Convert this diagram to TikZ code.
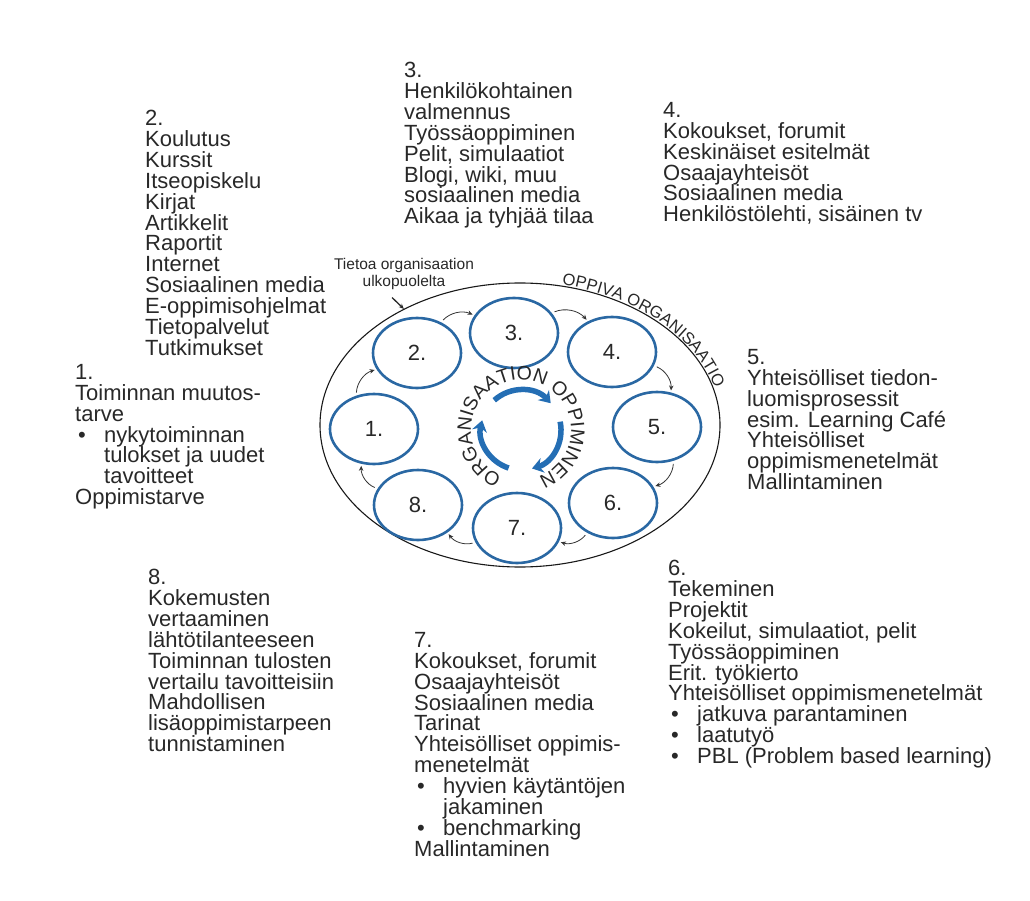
\documentclass[tikz,border=0pt]{standalone}
\usepackage{fontspec}
\setmainfont{Liberation Sans}
\usepackage{tikz}
\usepackage{xcolor}
\usetikzlibrary{shapes.geometric, arrows.meta, decorations.text}
\definecolor{vaihesini}{RGB}{42,104,163}
\definecolor{kiertosini}{RGB}{36,110,180}
\definecolor{teksti}{RGB}{40,40,40}
\tikzstyle{vaihe} = [ellipse, 
draw=vaihesini, line width=2.6pt, 
minimum width=88pt, minimum height=70pt, 
inner sep=0pt, text=teksti, 
font=\fontsize{22}{22}\selectfont]
\tikzstyle{kuvaus} = [anchor=north west, inner sep=0pt, align=left, text=teksti, font=\fontsize{22}{20.9}\selectfont]
\tikzstyle{nuoli} = [line width=0.8pt, ->, >={Stealth[length=5pt,width=4.5pt]}, draw=black!80]
\tikzstyle{kierto} = [draw=kiertosini, line width=5.5pt, -{Stealth[length=11pt,width=15pt]}]
\newcommand{\kohta}{\makebox[29pt][l]{\hspace{3pt}\textbullet}}
\newcommand{\sisennys}{\hspace*{29pt}}

\begin{document}
\begin{tikzpicture}[x=1pt, y=1pt]
        \useasboundingbox (0,0) rectangle (1030,-901);
        
        % Oppiva organisaatio (ulkoellipsi)
        \node[ellipse, draw=black!90, line width=1.1pt, minimum width=400pt, minimum height=284pt] (org) at (520,-425) {};
        \path[decorate, decoration={text along path, raise=1.5pt, text={|\fontsize{16.5}{16.5}\selectfont\color{teksti}|OPPIVA ORGANISAATIO}}]
            (org.center) ++(78:200 and 142) arc[start angle=78, end angle=8, x radius=200, y radius=142];
        
        % Tieto ulkopuolelta
        \node[font=\fontsize{15.5}{17.5}\selectfont, align=center, text=teksti] (tieto) at (404,-274) {Tietoa organisaation\\ulkopuolelta};
        \draw[-{Stealth[length=5pt,width=4.5pt]}, line width=1.3pt, teksti] ([xshift=-12pt,yshift=-4pt]tieto.south) -- (org.135);
        
        % Vaiheet 1-8
        \foreach \n/\x/\y in {1/374/429, 2/417/353, 3/514/333, 4/612/352, 5/657/427, 6/613/503, 7/517/528, 8/418/505}
            \node[vaihe] (v\n) at (\x,-\y) {\n.};
        
        % Siirtymät vaiheesta toiseen
        \foreach \i/\j/\p/\q in {1/2/118/202, 2/3/52/156, 3/4/28/128, 4/5/-18/68, 5/6/-64/22, 6/7/-131/-18, 7/8/199/-43, 8/1/158/-110}
            \draw[nuoli, shorten <=3pt, shorten >=2pt] (v\i.\p) to[bend left=35] (v\j.\q);
        
        % Keskellä: organisaation oppiminen
        \coordinate (kesk) at (521,-430);
        \foreach \s/\e in {132/42, 12/-74, -108/-194}
            \draw[kierto] (kesk) ++(\s:40) arc[start angle=\s, end angle=\e, radius=40];
        \path[decorate, decoration={text along path, text align=center, text={|\fontsize{19.5}{19.5}\selectfont\color{teksti}|ORGANISAATION OPPIMINEN}}]
            (kesk) ++(250:50) arc[start angle=250, end angle=-72, radius=50];
        
        % Kuvaukset
        \node[kuvaus] (k1) at (75,-364) {1.\\Toiminnan muutos-\\tarve\\\kohta nykytoiminnan\\\sisennys tulokset ja uudet\\\sisennys tavoitteet\\Oppimistarve};
        \node[kuvaus] (k2) at (145,-110) {2.\\Koulutus\\Kurssit\\Itseopiskelu\\Kirjat\\Artikkelit\\Raportit\\Internet\\Sosiaalinen media\\E-oppimisohjelmat\\Tietopalvelut\\Tutkimukset};
        \node[kuvaus] (k3) at (404,-62) {3.\\Henkilökohtainen\\valmennus\\Työssäoppiminen\\Pelit, simulaatiot\\Blogi, wiki, muu\\sosiaalinen media\\Aikaa ja tyhjää tilaa};
        \node[kuvaus] (k4) at (663,-102) {4.\\Kokoukset, forumit\\Keskinäiset esitelmät\\Osaajayhteisöt\\Sosiaalinen media\\Henkilöstölehti, sisäinen tv};
        \node[kuvaus] (k5) at (747,-349) {5.\\Yhteisölliset tiedon-\\luomisprosessit\\esim. Learning Café\\Yhteisölliset\\oppimismenetelmät\\Mallintaminen};
        \node[kuvaus] (k6) at (668,-560) {6.\\Tekeminen\\Projektit\\Kokeilut, simulaatiot, pelit\\Työssäoppiminen\\Erit. työkierto\\Yhteisölliset oppimismenetelmät\\\kohta jatkuva parantaminen\\\kohta laatutyö\\\kohta PBL (Problem based learning)};
        \node[kuvaus] (k7) at (414,-632) {7.\\Kokoukset, forumit\\Osaajayhteisöt\\Sosiaalinen media\\Tarinat\\Yhteisölliset oppimis-\\menetelmät\\\kohta hyvien käytäntöjen\\\sisennys jakaminen\\\kohta benchmarking\\Mallintaminen};
        \node[kuvaus] (k8) at (148,-569) {8.\\Kokemusten\\vertaaminen\\lähtötilanteeseen\\Toiminnan tulosten\\vertailu tavoitteisiin\\Mahdollisen\\lisäoppimistarpeen\\tunnistaminen};
        
    \end{tikzpicture}
\end{document}
